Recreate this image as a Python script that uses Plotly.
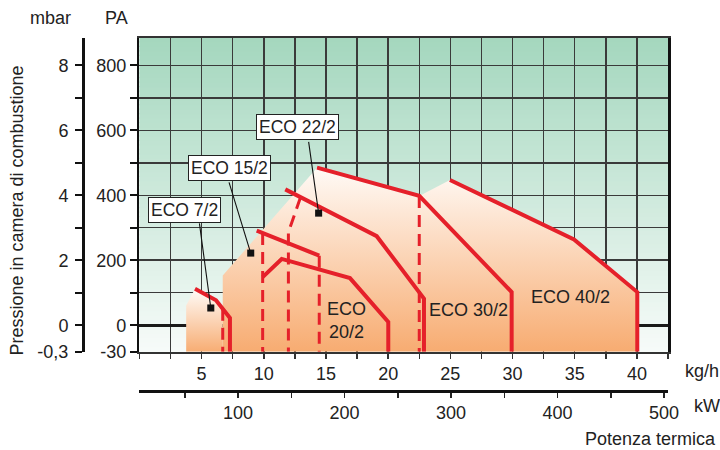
import plotly.graph_objects as go

# ---------------- axis ticks ----------------
KGH_TICKS = [i * 2.5 for i in range(18)]          # 0 ... 42.5 kg/h (grid)
KGH_LABELS = [5, 10, 15, 20, 25, 30, 35, 40]
KW_TICKS = list(range(50, 501, 50))
KW_LABELS = [100, 200, 300, 400, 500]
PA_TICKS = [-30, 0, 100, 200, 300, 400, 500, 600, 700, 800]
PA_LABELS = [-30, 0, 200, 400, 600, 800]
MBAR_TICKS = [-0.3, 0, 1, 2, 3, 4, 5, 6, 7, 8]
MBAR_LABELS = {-0.3: "-0,3", 0: "0", 2: "2", 4: "4", 6: "6", 8: "8"}

# ---------------- burner curves (kg/h , Pa) ----------------
eco7_x = [4.47, 6.16, 7.28, 7.28]
eco7_y = [112, 77, 22, -30]
eco7_dash_x = [6.70, 6.70]
eco7_dash_y = [51, -30]

eco15_x = [9.43, 14.46]
eco15_y = [291, 214]
eco15_dash_a_x = [9.91, 9.91]
eco15_dash_a_y = [284, -30]
eco15_dash_b_x = [14.46, 14.46]
eco15_dash_b_y = [214, -30]

eco20_x = [9.91, 11.44, 16.93, 20.01, 20.01]
eco20_y = [148, 204, 145, 10, -30]

eco22_x = [11.73, 19.08, 22.88, 22.88]
eco22_y = [418, 274, 82, -30]
eco22_dash_x = [12.95, 11.98, 11.98]
eco22_dash_y = [393, 286, -30]

eco30_x = [14.28, 22.50, 29.93, 29.93]
eco30_y = [485, 398, 102, -30]
eco30_dash_x = [22.50, 22.50]
eco30_dash_y = [398, -30]

eco40_x = [24.97, 34.94, 40.03, 40.03]
eco40_y = [447, 264, 102, -30]

# working-field envelopes
field_small_x = [3.76, 3.76, 4.47, 6.16, 6.70, 6.70]
field_small_y = [-30, 61, 112, 77, 51, -30]
field_x = [6.70, 6.70, 14.28, 22.50, 24.97, 34.94, 40.03, 40.03]
field_y = [-30, 153, 485, 398, 447, 264, 102, -30]

# label boxes: (text, box x, box y, pointer tail x, tail y, tip x, tip y)
BOX_LABELS = [
    ("ECO 7/2", 3.59, 355, 4.81, 318, 5.74, 53),
    ("ECO 15/2", 7.26, 484, 7.17, 444, 8.95, 222),
    ("ECO 22/2", 12.74, 609, 13.59, 569, 14.41, 345),
]
AREA_LABELS = [
    ("ECO<br>20/2", 16.62, 14),
    ("ECO 30/2", 26.46, 46),
    ("ECO 40/2", 34.64, 87),
]

# ---------------- scale helpers ----------------
NEG_STRETCH = 81.5 / 30.0   # the -30..0 band is drawn expanded


def ypos(pa):
    return pa if pa >= 0 else pa * NEG_STRETCH


def ys(vals):
    return [ypos(v) for v in vals]


Y_BOTTOM = ypos(-30)
Y_TOP = 884

RED = "#e5202a"
FONT = "Liberation Sans, Arial, sans-serif"
TXT = "#222222"

fig = go.Figure()

# orange working fields (vertical gradient)
for fx, fy, top in [(field_small_x, field_small_y, 112), (field_x, field_y, 485)]:
    fig.add_trace(go.Scatter(
        x=fx, y=ys(fy), mode="lines", fill="toself", line=dict(width=0),
        fillgradient=dict(type="vertical",
                          colorscale=[[0, "#f7ab70"], [1, "#fffaf6"]],
                          start=Y_BOTTOM, stop=top),
        hoverinfo="skip", showlegend=False))

# dashed lines
for dx, dy in [(eco7_dash_x, eco7_dash_y), (eco15_dash_a_x, eco15_dash_a_y),
               (eco15_dash_b_x, eco15_dash_b_y), (eco22_dash_x, eco22_dash_y),
               (eco30_dash_x, eco30_dash_y)]:
    fig.add_trace(go.Scatter(x=dx, y=ys(dy), mode="lines",
                             line=dict(color=RED, width=3, dash="12px,7px"),
                             hoverinfo="skip", showlegend=False))

# solid curves
for cx, cy in [(eco7_x, eco7_y), (eco15_x, eco15_y), (eco20_x, eco20_y),
               (eco22_x, eco22_y), (eco30_x, eco30_y), (eco40_x, eco40_y)]:
    fig.add_trace(go.Scatter(x=cx, y=ys(cy), mode="lines",
                             line=dict(color=RED, width=4),
                             hoverinfo="skip", showlegend=False))

# invisible traces so the mbar and kW axes get drawn
fig.add_trace(go.Scatter(x=[None], y=[None], yaxis="y2", showlegend=False))
fig.add_trace(go.Scatter(x=[None], y=[None], xaxis="x2", showlegend=False))

# green gradient background strips
N = 70
top_c = (0xa4, 0xd7, 0xbe)
bot_c = (0xf7, 0xfb, 0xf9)
shapes = []
for i in range(N):
    t = (i + 0.5) / N
    c = tuple(round(bot_c[k] + (top_c[k] - bot_c[k]) * t) for k in range(3))
    shapes.append(dict(type="rect", xref="x domain", yref="y domain",
                       x0=0, x1=1, y0=i / N, y1=(i + 1) / N + 0.004,
                       fillcolor="rgb(%d,%d,%d)" % c, line=dict(width=0),
                       layer="below"))

annotations = []
for text, bx, by, tx0, ty0, hx, hy in BOX_LABELS:
    annotations.append(dict(x=hx, y=ypos(hy), ax=tx0, ay=ypos(ty0),
                            axref="x", ayref="y", xref="x", yref="y",
                            text="", showarrow=True, arrowhead=7,
                            arrowsize=1.6, arrowwidth=1.1, arrowcolor="#111",
                            standoff=0))
    annotations.append(dict(x=bx, y=ypos(by), xref="x", yref="y", text=text,
                            showarrow=False, bgcolor="white",
                            bordercolor="#222", borderwidth=1, borderpad=2,
                            font=dict(family=FONT, size=17.5, color=TXT)))
for text, lx, ly in AREA_LABELS:
    annotations.append(dict(x=lx, y=ypos(ly), xref="x", yref="y", text=text,
                            showarrow=False,
                            font=dict(family=FONT, size=18, color=TXT)))


def paper_ann(text, x, y, xanchor="center", angle=0):
    return dict(x=x, y=y, xref="paper", yref="paper", text=text,
                showarrow=False, xanchor=xanchor, yanchor="middle",
                textangle=angle, font=dict(family=FONT, size=18, color=TXT))


L, R, T, B = 60, 52, 38, 20
PW = 720 - L - R
PH = 450 - T - B


def px_x(px):
    return (px - L) / PW


def px_y(py):
    return (450 - B - py) / PH


annotations += [
    paper_ann("mbar", px_x(50), px_y(18)),
    paper_ann("PA", px_x(116), px_y(18)),
    paper_ann("kg/h", px_x(702), px_y(373)),
    paper_ann("kW", px_x(707), px_y(408)),
    paper_ann("Potenza termica", px_x(718), px_y(441), xanchor="right"),
    paper_ann("Pressione in camera di combustione", px_x(17.5), px_y(212),
              angle=-90),
]

x_dom0 = px_x(139.4)
y_dom0 = px_y(353.3)

fig.update_layout(
    width=720, height=450,
    margin=dict(l=L, r=R, t=T, b=B, pad=0),
    paper_bgcolor="white", plot_bgcolor="white",
    showlegend=False,
    shapes=shapes, annotations=annotations,
    font=dict(family=FONT, size=18, color=TXT),
    xaxis=dict(domain=[x_dom0, 1], range=[0, 42.5],
               tickmode="array", tickvals=KGH_TICKS,
               ticktext=[(str(int(v)) if v in KGH_LABELS else "") for v in KGH_TICKS],
               ticks="outside", ticklen=5, tickwidth=1.5, tickcolor="#333",
               showgrid=True, gridcolor="#3a3a3a", gridwidth=1.5,
               zeroline=False, showline=True, linecolor="#333", linewidth=2,
               mirror=True, tickfont=dict(size=18, color=TXT)),
    xaxis2=dict(overlaying="x", anchor="free", position=px_y(393),
                side="bottom", range=[7.4, 503.7],
                tickmode="array", tickvals=KW_TICKS,
                ticktext=[(str(v) if v in KW_LABELS else "") for v in KW_TICKS],
                ticks="outside", ticklen=5, tickwidth=1.5, tickcolor="#222",
                showgrid=False, zeroline=False, showline=True,
                linecolor="#111", linewidth=2.5,
                tickfont=dict(size=18, color=TXT)),
    yaxis=dict(domain=[y_dom0, 1], range=[Y_BOTTOM, Y_TOP],
               tickmode="array", tickvals=ys(PA_TICKS),
               ticktext=[(str(v) if v in PA_LABELS else "") for v in PA_TICKS],
               ticks="outside", ticklen=7, tickwidth=2, tickcolor="#111",
               showgrid=True, gridcolor="#3a3a3a", gridwidth=1.5,
               zeroline=True, zerolinecolor="#1a1a1a", zerolinewidth=3,
               showline=True, linecolor="#111", linewidth=2.5, mirror=True,
               tickfont=dict(size=18, color=TXT)),
    yaxis2=dict(overlaying="y", anchor="free", position=px_x(83), side="left",
                range=[Y_BOTTOM / 100, Y_TOP / 100],
                tickmode="array", tickvals=[ypos(v * 100) / 100 for v in MBAR_TICKS],
                ticktext=[MBAR_LABELS.get(v, "") for v in MBAR_TICKS],
                ticks="outside", ticklen=7, tickwidth=2, tickcolor="#111",
                showgrid=False, zeroline=False, showline=True,
                linecolor="#111", linewidth=2.5, ticklabelstandoff=3,
                tickfont=dict(size=18, color=TXT)),
)

fig.write_html("out.html",
               config={"displayModeBar": False, "staticPlot": True},
               post_script="document.body.style.margin='0';")
